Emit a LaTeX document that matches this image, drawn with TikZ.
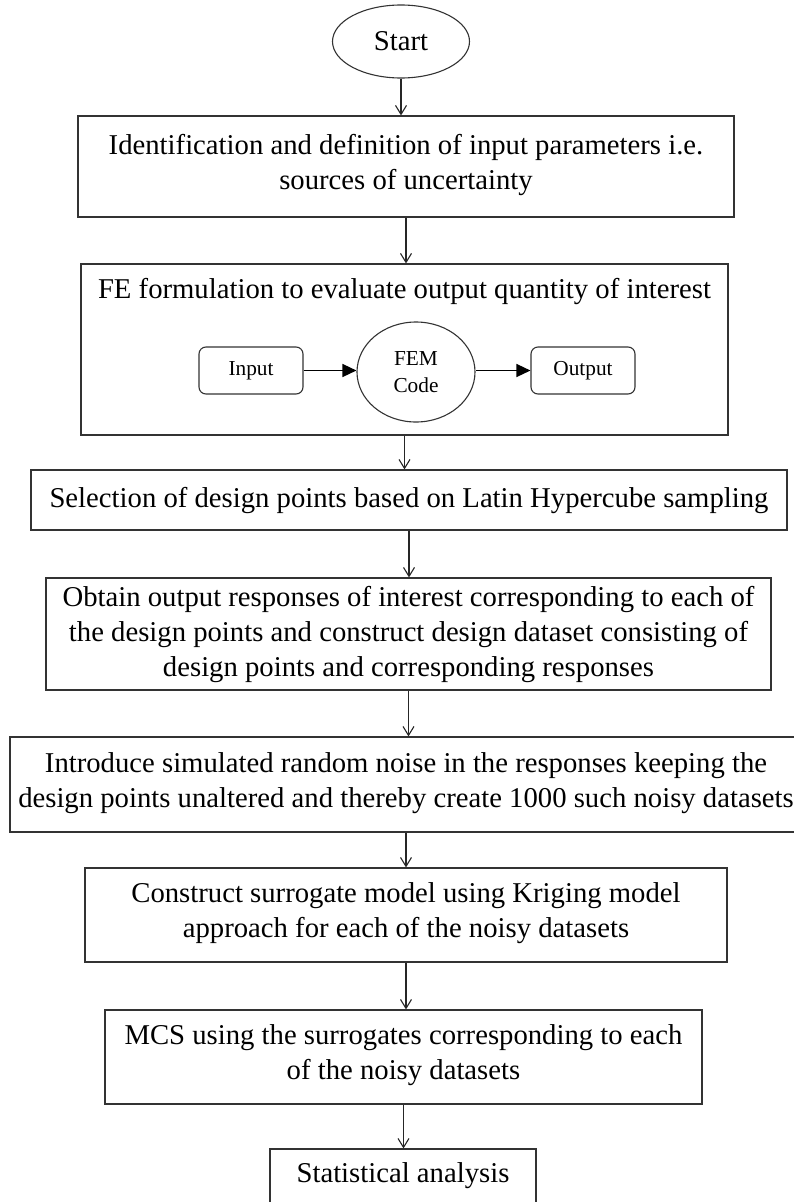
\documentclass[tikz,border=0pt]{standalone}
\usepackage{fontspec}
\setmainfont{Liberation Serif}
\usetikzlibrary{arrows.meta,shapes.geometric}

\begin{document}
\begin{tikzpicture}[x=1pt,y=-1pt,
  box/.style={draw=black!80,line width=1.1pt,rectangle,align=center,inner sep=0pt,font=\fontsize{28.7}{35}\selectfont},
  uppad/.style={execute at end node={\rule[-9pt]{0pt}{9pt}}},
  small/.style={draw=black!80,line width=1.1pt,align=center,inner sep=0pt,font=\fontsize{21.3}{27}\selectfont},
  flow/.style={-{Straight Barb[length=9pt,width=11pt]},draw=black!85,line width=1.1pt},
  feed/.style={-{Triangle[length=14pt,width=13pt]},draw=black,line width=1.4pt}]
\useasboundingbox (0,0) rectangle (794,1202);

% steps
\node[box,ellipse,minimum width=137pt,minimum height=73pt] (start) at (401,41.5) {Start};
\node[box,uppad,minimum width=656pt,minimum height=101pt] (ident) at (406,166.5) {Identification and definition of input parameters i.e.\\ sources of uncertainty};
\node[box,minimum width=647pt,minimum height=171pt] (fe) at (404.5,349.5) {};
\node[font=\fontsize{28.7}{35}\selectfont] (fetitle) at (404.5,291) {FE formulation to evaluate output quantity of interest};
\node[small,rounded corners=7pt,minimum width=104pt,minimum height=47pt] (input) at (251,370.5) {Input};
\node[small,ellipse,minimum width=118pt,minimum height=100pt] (fem) at (416,372) {FEM\\ Code};
\node[small,rounded corners=7pt,minimum width=104pt,minimum height=47pt] (output) at (583,370.5) {Output};
\node[box,minimum width=756pt,minimum height=60pt] (lhs) at (409,500) {Selection of design points based on Latin Hypercube sampling};
\node[box,minimum width=725pt,minimum height=112pt] (design) at (408.5,634) {Obtain output responses of interest corresponding to each of\\ the design points and construct design dataset consisting of\\ design points and corresponding responses};
\node[box,uppad,minimum width=792pt,minimum height=95pt] (noise) at (406,784.5) {Introduce simulated random noise in the responses keeping the\\ design points unaltered and thereby create 1000 such noisy datasets};
\node[box,uppad,minimum width=642pt,minimum height=94pt] (krig) at (406,915) {Construct surrogate model using Kriging model\\ approach for each of the noisy datasets};
\node[box,uppad,minimum width=597pt,minimum height=94pt] (mcs) at (403.5,1057) {MCS using the surrogates corresponding to each\\ of the noisy datasets};
\node[box,minimum width=266pt,minimum height=54pt] (stat) at (403,1176) {Statistical analysis};

% arrows
\draw[flow] (start.south) -- (start.south |- ident.north);
\draw[flow] (ident.south) -- (ident.south |- fe.north);
\draw[flow] (fe.south) -- (fe.south |- lhs.north);
\draw[flow] (lhs.south) -- (lhs.south |- design.north);
\draw[flow] (design.south) -- (design.south |- noise.north);
\draw[flow] (noise.south) -- (noise.south |- krig.north);
\draw[flow] (krig.south) -- (krig.south |- mcs.north);
\draw[flow] (mcs.south) -- (mcs.south |- stat.north);
\draw[feed] (input.east) -- (input.east -| fem.west);
\draw[feed] (fem.east |- output.west) -- (output.west);

\end{tikzpicture}
\end{document}
